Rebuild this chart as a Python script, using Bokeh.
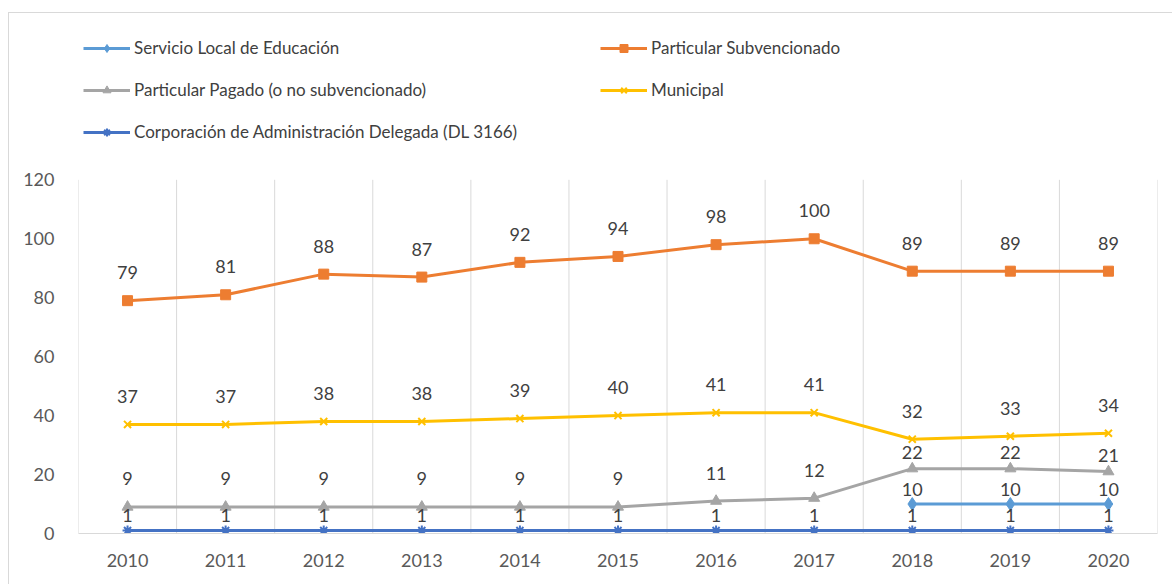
from bokeh.plotting import figure
from bokeh.models import ColumnDataSource, FixedTicker, Range1d, Legend, LegendItem
from bokeh.core.properties import value
from bokeh.embed import file_html
from bokeh.resources import INLINE

years = [2010, 2011, 2012, 2013, 2014, 2015, 2016, 2017, 2018, 2019, 2020]
servicio_local = [None, None, None, None, None, None, None, None, 10, 10, 10]
part_subvencionado = [79, 81, 88, 87, 92, 94, 98, 100, 89, 89, 89]
part_pagado = [9, 9, 9, 9, 9, 9, 11, 12, 22, 22, 21]
municipal = [37, 37, 38, 38, 39, 40, 41, 41, 32, 33, 34]
corporacion = [1, 1, 1, 1, 1, 1, 1, 1, 1, 1, 1]
y_ticks = [0, 20, 40, 60, 80, 100, 120]

FONT = "Lato"
TXT = "#404040"
TICK = "#595959"
Y_MAX = 120
# frame extends above the plotting area to hold the legend (120 -> 179px, 0 -> 532px)
Y_TOP = Y_MAX * (532 - 13) / (532 - 179)

p = figure(width=1164, height=572, output_backend="svg", toolbar_location=None,
           x_range=Range1d(2009.5, 2020.5), y_range=Range1d(0, Y_TOP),
           min_border_left=69, min_border_right=16, min_border_top=0, min_border_bottom=52)
p.styles = {"border-top": "1px solid #d9d9d9", "border-left": "1px solid #d9d9d9",
            "margin-top": "12px", "margin-left": "8px"}
p.outline_line_color = None
p.background_fill_color = "white"

p.xaxis.ticker = FixedTicker(ticks=years)
p.yaxis.ticker = FixedTicker(ticks=y_ticks)
p.xgrid.grid_line_color = None
p.ygrid.grid_line_color = None

# category boundary gridlines limited to the 0..120 value area
bounds = [y - 0.5 for y in years] + [years[-1] + 0.5]
p.segment(x0=bounds, y0=[0] * len(bounds), x1=bounds, y1=[Y_MAX] * len(bounds),
          line_color="#d9d9d9", line_width=1)

for ax in (p.xaxis, p.yaxis):
    ax.major_tick_line_color = None
    ax.minor_tick_line_color = None
    ax.major_label_text_font = FONT
    ax.major_label_text_font_size = "18px"
    ax.major_label_text_color = TICK
p.yaxis.axis_line_color = None
p.xaxis.axis_line_color = "#d9d9d9"
p.xaxis.axis_line_width = 1
p.yaxis.major_label_standoff = 18
p.xaxis.major_label_standoff = 14

series = [
    ("Servicio Local de Educación", servicio_local, "#5B9BD5", "diamond", 13),
    ("Particular Subvencionado", part_subvencionado, "#ED7D31", "square", 10),
    ("Particular Pagado (o no subvencionado)", part_pagado, "#A5A5A5", "triangle", 11),
    ("Municipal", municipal, "#FFC000", "x", 10),
    ("Corporación de Administración Delegada (DL 3166)", corporacion, "#4472C4", "asterisk", 10),
]

items = []
for name, vals, color, marker, size in series:
    xs = [y for y, v in zip(years, vals) if v is not None]
    vs = [v for v in vals if v is not None]
    if name.startswith("Servicio") or name.startswith("Corporación"):
        offs = [-15 for _ in xs]
    elif name.startswith("Particular Pagado"):
        offs = [-16 if y >= 2018 else -28 for y in xs]
    else:
        offs = [-28 for _ in xs]
    src = ColumnDataSource(dict(x=xs, y=vs, label=[str(v) for v in vs], off=offs))
    r1 = p.line("x", "y", source=src, line_color=color, line_width=3)
    r2 = p.scatter("x", "y", source=src, marker=marker, size=size, fill_color=color,
                   line_color=color, line_width=2 if marker in ("x", "asterisk") else 1)
    p.text("x", "y", text="label", source=src, y_offset="off", text_align="center",
           text_baseline="middle", text_font=value(FONT), text_font_size="18px", text_color=TXT)
    items.append(LegendItem(label=name, renderers=[r1, r2]))

legend = Legend(items=items, orientation="horizontal", ncols=2, location=(5, 391),
                padding=0, margin=0, spacing=21, glyph_width=47, glyph_height=20,
                label_height=20, label_width=445, label_standoff=4,
                label_text_font=FONT, label_text_font_size="17px", label_text_color=TXT,
                border_line_color=None, background_fill_alpha=0)
p.add_layout(legend, "center")

open("out.html", "w").write(file_html(p, INLINE))
